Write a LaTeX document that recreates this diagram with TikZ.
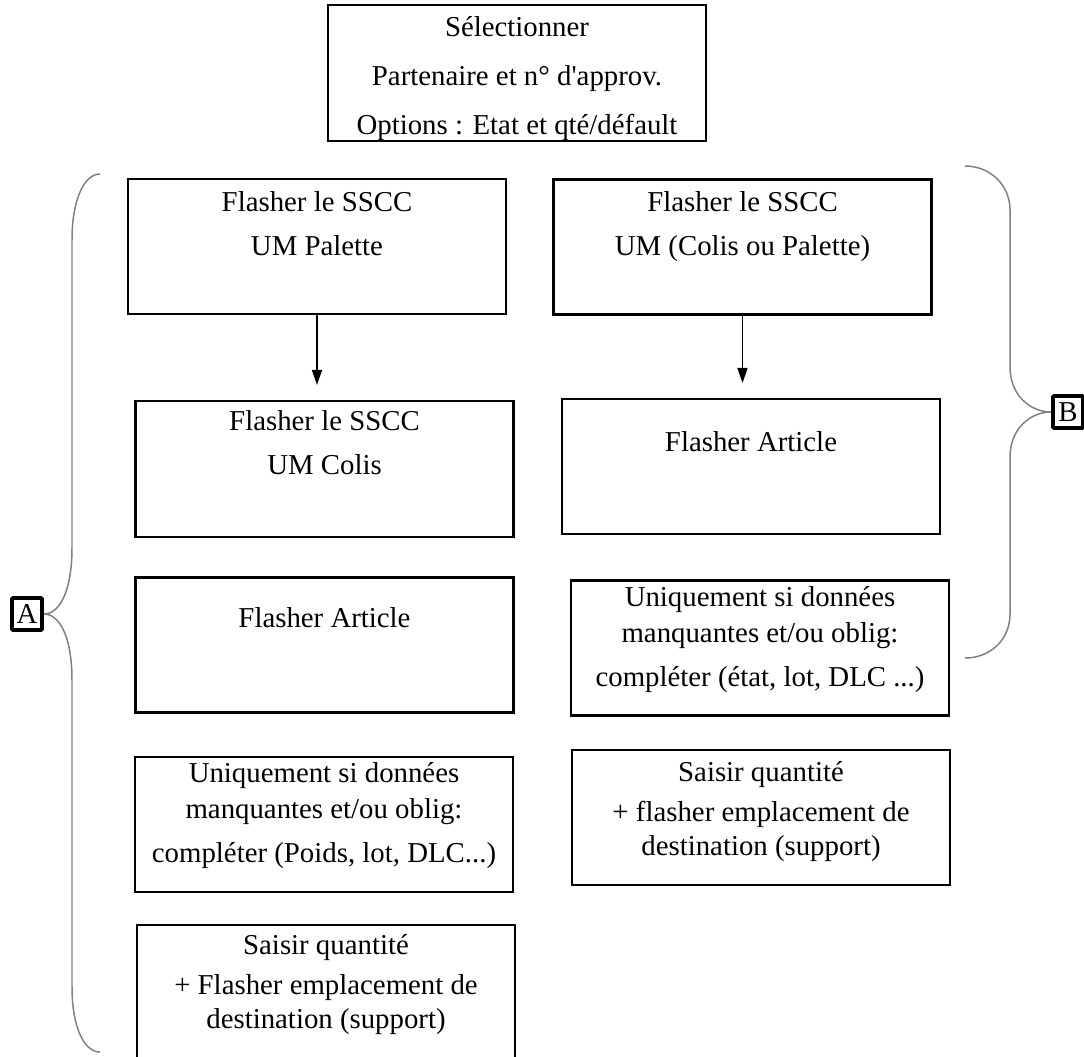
\documentclass[tikz,border=0pt]{standalone}
\usepackage{fontspec}
\setmainfont{Liberation Serif}[Ligatures=TeXOff]
\usetikzlibrary{positioning,arrows.meta}

\begin{document}
\begin{tikzpicture}[x=0.02cm,y=-0.02cm,
  font=\fontsize{16.4}{19}\selectfont,
  box/.style={draw, line width=1.2pt, minimum width=7.56cm, minimum height=2.7cm, inner sep=0pt},
  txt/.style={align=center, inner sep=0pt},
  arr/.style={-{Triangle[length=0.3cm,width=0.2cm]}, line width=0.9pt, shorten >=0.3cm},
  brace/.style={draw=black!50, line width=0.85pt},
  tag/.style={draw, line width=2.2pt, rounded corners=0.6pt, inner sep=0pt, minimum width=0.6cm, minimum height=0.64cm}]
\useasboundingbox (0,0) rectangle (1084,1056);
% selection box
\node[box, minimum height=2.72cm] (sel) at (517,73) {};
\node[txt, below=0.24cm of sel.north] {Sélectionner\\[9pt]Partenaire et n° d'approv.\\[9pt]Options : Etat et qté/défault};
% column A
\node[box] (a1) at (317,246.5) {};
\node[txt, below=0.26cm of a1.north] {Flasher le SSCC\\[6pt]UM Palette};
\node[box, minimum height=2.72cm] (a2) at (324.5,469) {};
\node[txt, below=0.2cm of a2.north] {Flasher le SSCC\\[6pt]UM Colis};
\node[box] (a3) at (324.5,645) {};
\node[txt, below=0.62cm of a3.north] {Flasher Article};
\node[box] (a4) at (324,824.5) {};
\node[txt, below=0.12cm of a4.north] {Uniquement si données\\[1.4pt]manquantes et/ou oblig:\\[6pt]compléter (Poids, lot, DLC...)};
\node[box, minimum height=2.74cm] (a5) at (326,993.5) {};
\node[txt, below=0.2cm of a5.north] {Saisir quantité\\[4pt]+ Flasher emplacement de\\[0.3pt]destination (support)};
% column B
\node[box] (b1) at (742.5,247) {};
\node[txt, below=0.26cm of b1.north] {Flasher le SSCC\\[6pt]UM (Colis ou Palette)};
\node[box] (b2) at (751,466.5) {};
\node[txt, below=0.66cm of b2.north] {Flasher Article};
\node[box] (b3) at (760,648) {};
\node[txt, below=0.14cm of b3.north] {Uniquement si données\\[1.4pt]manquantes et/ou oblig:\\[6pt]compléter (état, lot, DLC ...)};
\node[box] (b4) at (761,817.5) {};
\node[txt, below=0.24cm of b4.north] {Saisir quantité\\[4pt]+ flasher emplacement de\\[0.3pt]destination (support)};
% arrows
\draw[arr] (a1.south) -- (a1.south |- a2.north);
\draw[arr] (b1.south) -- (b1.south |- b2.north);
% braces and tags
\node[tag] (tagA) at (27,614) {A};
\node[tag] (tagB) at (1068,412) {B};
\coordinate (aTop) at (100,174);
\coordinate (aBot) at (100,1052);
\coordinate (bTop) at (965,166);
\coordinate (bBot) at (965,658);
\draw[brace] (aTop) .. controls (84,174) and (72,200) .. (72,240) -- (72,548)
  .. controls (72,590) and (60,614) .. (tagA.east)
  .. controls (60,614) and (72,638) .. (72,680) -- (72,987)
  .. controls (72,1027) and (84,1052) .. (aBot);
\draw[brace] (bTop) .. controls (990,166) and (1010,185) .. (1010,210) -- (1010,367)
  .. controls (1010,395) and (1030,412) .. (tagB.west)
  .. controls (1030,412) and (1010,429) .. (1010,457) -- (1010,614)
  .. controls (1010,640) and (990,658) .. (bBot);
\end{tikzpicture}
\end{document}
